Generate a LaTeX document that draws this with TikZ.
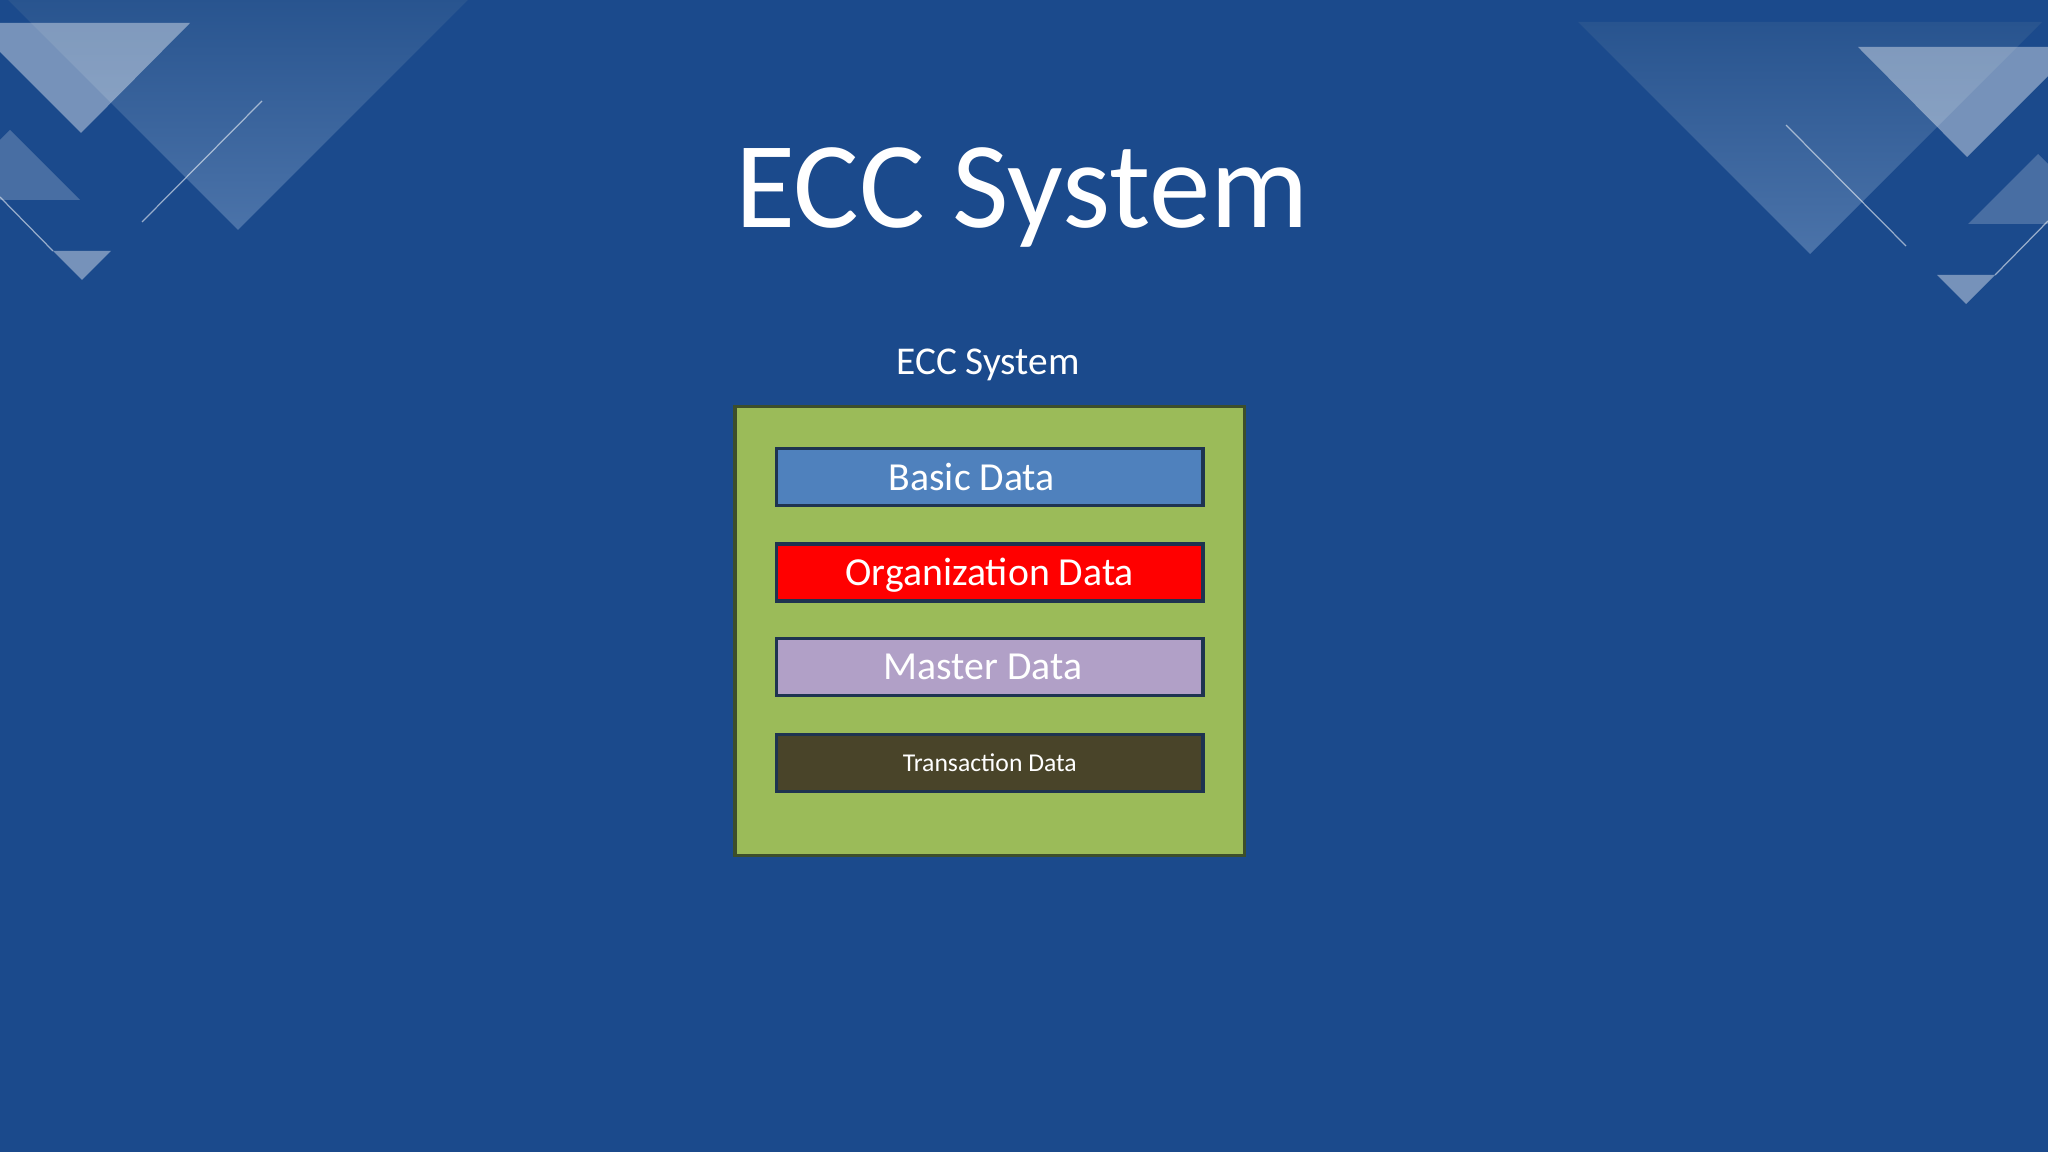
\documentclass[tikz,border=0pt]{standalone}
\usepackage{fontspec}
\usepackage{tikz}
\usepackage{xcolor}
\setmainfont{Carlito}

\definecolor{slidebg}{HTML}{1B4A8C}
\definecolor{bandtop}{HTML}{28548F}
\definecolor{bandlow}{HTML}{4B73A9}
\definecolor{eccgreen}{HTML}{9BBB59}
\definecolor{eccline}{HTML}{3C4E2B}
\definecolor{barline}{HTML}{1E3350}
\definecolor{basicblue}{HTML}{4F81BD}
\definecolor{orgred}{HTML}{FF0000}
\definecolor{masterlilac}{HTML}{B1A0C7}
\definecolor{transolive}{HTML}{494429}

\tikzset{
  databar/.style={draw=barline, line width=1pt, minimum width=4.26cm,
    minimum height=0.57cm, inner sep=0pt, text=white,
    font=\fontsize{11.3}{13}\selectfont, text height=7.3pt, text depth=0pt},
  glass/.style={fill=white, fill opacity=#1},
  hairline/.style={draw=white, draw opacity=0.55, line width=0.35pt}
}

\begin{document}
\begin{tikzpicture}[x=0.01cm, y=-0.01cm]
	\useasboundingbox (0, 0) rectangle (2048, 1152);
	\fill[slidebg] (0, 0) rectangle (2048, 1152);
	\clip (0, 0) rectangle (2048, 1152);
	% corner triangles, right side mirrored and shifted down
	\foreach \sx/\dy in {1/0, -1/24} {
		\begin{scope}[shift={({1024-1024*\sx}, \dy)}, xscale=\sx]
			\shade[top color=bandtop, bottom color=bandlow] (6, -2) -- (470, -2) -- (238, 230) -- cycle;
			\path[glass=0.4] (-29, 23) -- (190, 23) -- (81, 133) -- cycle;
			\path[glass=0.2] (10, 130) -- (80, 200) -- (-60, 200) -- cycle;
			\path[glass=0.4] (53, 251) -- (111, 251) -- (82, 280) -- cycle;
			\draw[hairline] (0, 197) -- (53, 251);
			\draw[hairline] (142, 222) -- (262, 101);
		\end{scope}
	}
	\node[text=white, font=\fontsize{35}{40}\selectfont, anchor=base] (title) at (1022, 228) {ECC System};
	\node[text=white, font=\fontsize{11.2}{13}\selectfont, anchor=base] (subtitle) at (988, 375) {ECC System};
	\node[draw=eccline, fill=eccgreen, line width=1pt, minimum width=5.09cm, minimum height=4.49cm] (ecc) at (989.8, 631) {};
	\node[databar, fill=basicblue] (basic) at (989.8, 477.2) {Basic Data\hspace*{0.36cm}};
	\node[databar, fill=orgred] (org) at (989.8, 572.4) {Organization Data};
	\node[databar, fill=masterlilac] (master) at (989.8, 667) {Master Data\hspace*{0.14cm}};
	\node[databar, fill=transolive, font=\fontsize{7.3}{9}\selectfont, text height=4.7pt] (trans) at (989.8, 762.8) {Transaction Data};
\end{tikzpicture}
\end{document}
